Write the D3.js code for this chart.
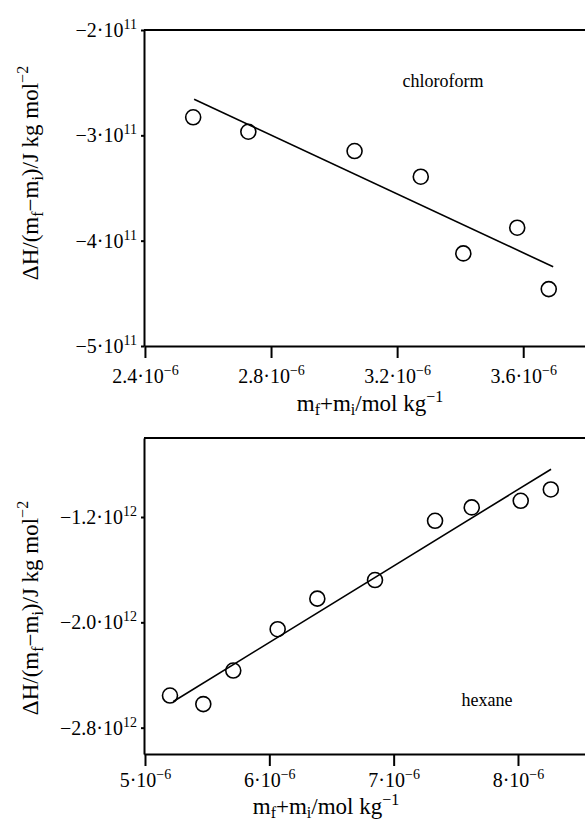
<!DOCTYPE html>
<html>
<head>
<meta charset="utf-8">
<script src="https://cdn.jsdelivr.net/npm/d3@7"></script>
<style>
  body { margin: 0; background: #fff; }
  svg text { font-family: 'Liberation Serif', 'DejaVu Serif', serif !important; fill: #000; }
</style>
</head>
<body>
<svg id="chart" width="585" height="822" font-family="Liberation Serif, DejaVu Serif, serif"></svg>
<script>
// chloroform panel
var chlX = [2.553e-6, 2.728e-6, 3.065e-6, 3.275e-6, 3.410e-6, 3.581e-6, 3.681e-6];
var chlY = [-2.829e11, -2.966e11, -3.149e11, -3.393e11, -4.121e11, -3.877e11, -4.460e11];
var chlFitX = [2.556e-6, 3.695e-6];
var chlFitY = [-2.658e11, -4.248e11];
var chlXTicks = [2.4e-6, 2.8e-6, 3.2e-6, 3.6e-6];
var chlYTicks = [-2e11, -3e11, -4e11, -5e11];

// hexane panel
var hexX = [5.201e-6, 5.469e-6, 5.710e-6, 6.067e-6, 6.386e-6, 6.850e-6, 7.333e-6, 7.628e-6, 8.022e-6, 8.264e-6];
var hexY = [-2.556e12, -2.621e12, -2.366e12, -2.052e12, -1.820e12, -1.679e12, -1.229e12, -1.127e12, -1.077e12, -0.991e12];
var hexFitX = [5.228e-6, 8.266e-6];
var hexFitY = [-2.601e12, -0.837e12];
var hexXTicks = [5e-6, 6e-6, 7e-6, 8e-6];
var hexYTicks = [-1.2e12, -2.0e12, -2.8e12];

var FONT = "Liberation Serif, DejaVu Serif, serif";
var svg = d3.select("#chart");

// split a value into mantissa and power of ten
function sci(v, dec) {
  var e = Math.floor(Math.log10(Math.abs(v)) + 1e-9);
  var m = v / Math.pow(10, e);
  var ms = m.toFixed(dec).replace("-", "\u2212");
  return [ms + "\u00b710", String(e).replace("-", "\u2212")];
}

function putSci(textSel, v, dec) {
  var p = sci(v, dec);
  textSel.text(null);
  textSel.append("tspan").text(p[0]);
  textSel.append("tspan").attr("dy", -8).attr("font-size", 14).text(p[1]);
}

function panel(o) {
  var x = d3.scaleLinear().domain(o.xDom).range([144, 585]);
  var y = d3.scaleLinear().domain(o.yDom).range([o.bottom, o.top]);
  var g = svg.append("g").attr("font-family", FONT);

  // top frame line
  g.append("line")
    .attr("x1", 144).attr("x2", 585)
    .attr("y1", o.top).attr("y2", o.top)
    .attr("stroke", "#000").attr("stroke-width", 2);

  var ax = g.append("g")
    .attr("transform", "translate(0," + o.bottom + ")")
    .call(d3.axisBottom(x).tickValues(o.xTicks).tickSize(12).tickSizeOuter(0));
  var ay = g.append("g")
    .attr("transform", "translate(144,0)")
    .call(d3.axisLeft(y).tickValues(o.yTicks).tickSize(3).tickSizeOuter(0));

  [ax, ay].forEach(function(a) {
    a.attr("font-family", FONT).attr("font-size", 20);
    a.select(".domain").attr("stroke", "#000").attr("stroke-width", 2);
    a.selectAll(".tick line").attr("stroke", "#000").attr("stroke-width", 2);
    a.selectAll(".tick text").attr("font-family", FONT).attr("fill", "#000");
  });

  ax.selectAll(".tick text")
    .attr("y", o.xLabOff).attr("dy", null)
    .each(function(d) { putSci(d3.select(this), d, o.xDec); });
  ay.selectAll(".tick text")
    .attr("x", -7).attr("dy", 6.5)
    .each(function(d) { putSci(d3.select(this), d, o.yDec); });

  // fit line
  g.append("line")
    .attr("x1", x(o.fitX[0])).attr("y1", y(o.fitY[0]))
    .attr("x2", x(o.fitX[1])).attr("y2", y(o.fitY[1]))
    .attr("stroke", "#000").attr("stroke-width", 1.6);

  g.selectAll("circle.pt")
    .data(o.px.map(function(v, i) { return [v, o.py[i]]; }))
    .enter().append("circle")
    .attr("class", "pt")
    .attr("cx", function(d) { return x(d[0]); })
    .attr("cy", function(d) { return y(d[1]); })
    .attr("r", 7.5)
    .attr("fill", "none")
    .attr("stroke", "#000")
    .attr("stroke-width", 1.6);

  // solvent name
  g.append("text")
    .attr("x", o.nameX).attr("y", o.nameY)
    .attr("text-anchor", "middle").attr("font-size", 18)
    .text(o.name);

  // x title
  var xt = g.append("text")
    .attr("x", o.xtX).attr("y", o.xtY)
    .attr("text-anchor", "middle").attr("font-size", 23);
  xt.append("tspan").text("m");
  xt.append("tspan").attr("font-size", 16).attr("dy", 4).text("f");
  xt.append("tspan").attr("dy", -4).text("+m");
  xt.append("tspan").attr("font-size", 16).attr("dy", 4).text("i");
  xt.append("tspan").attr("dy", -4).text("/mol kg");
  xt.append("tspan").attr("font-size", 16).attr("dy", -9).text("\u22121");

  // y title
  var yt = g.append("text")
    .attr("transform", "translate(38," + o.ytY + ") rotate(-90)")
    .attr("text-anchor", "middle").attr("font-size", 23);
  yt.append("tspan").text("\u0394H/(m");
  yt.append("tspan").attr("font-size", 16).attr("dy", 5).text("f");
  yt.append("tspan").attr("dy", -5).text("\u2212m");
  yt.append("tspan").attr("font-size", 16).attr("dy", 5).text("i");
  yt.append("tspan").attr("dy", -5).text(")/J kg mol");
  yt.append("tspan").attr("font-size", 16).attr("dy", -10).text("\u22122");
}

panel({
  top: 30, bottom: 346, xLabOff: 37,
  xDom: [2.397e-6, 3.796e-6], yDom: [-5e11, -2e11],
  xTicks: chlXTicks, yTicks: chlYTicks, xDec: 1, yDec: 0,
  px: chlX, py: chlY, fitX: chlFitX, fitY: chlFitY,
  name: "chloroform", nameX: 443, nameY: 87,
  xtX: 370, xtY: 411, ytY: 173
});

panel({
  top: 438, bottom: 754, xLabOff: 33,
  xDom: [4.992e-6, 8.539e-6], yDom: [-3.0e12, -0.6e12],
  xTicks: hexXTicks, yTicks: hexYTicks, xDec: 0, yDec: 1,
  px: hexX, py: hexY, fitX: hexFitX, fitY: hexFitY,
  name: "hexane", nameX: 487, nameY: 706,
  xtX: 326, xtY: 814, ytY: 608
});
</script>
</body>
</html>
